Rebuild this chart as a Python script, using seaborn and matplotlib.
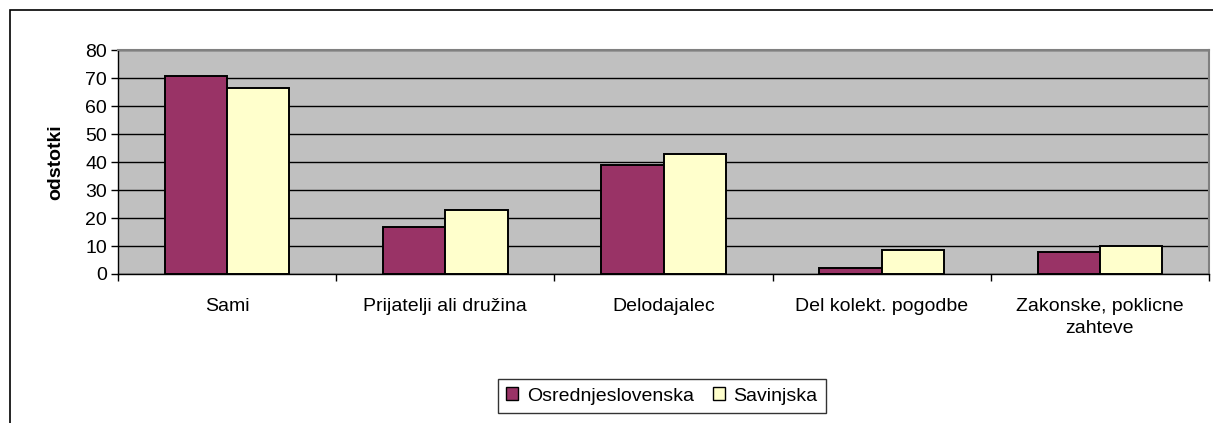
import matplotlib
matplotlib.use("Agg")
import matplotlib.pyplot as plt
import matplotlib.patches as mpatches
import pandas as pd
import seaborn as sns

# data
categories = ["Sami", "Prijatelji ali družina", "Delodajalec",
              "Del kolekt. pogodbe", "Zakonske, poklicne\nzahteve"]
osrednjeslovenska = [71, 17, 39, 2, 8]
savinjska = [66.5, 23, 43, 8.5, 10]
series = ["Osrednjeslovenska", "Savinjska"]
colors = ["#993366", "#FFFFCC"]

df = pd.DataFrame({
    "kategorija": categories * 2,
    "odstotki": osrednjeslovenska + savinjska,
    "regija": [series[0]] * len(categories) + [series[1]] * len(categories),
})

sns.set_style("white")
plt.rcParams["font.family"] = ["Liberation Sans", "DejaVu Sans"]
plt.rcParams["text.color"] = "black"
plt.rcParams["axes.labelcolor"] = "black"
plt.rcParams["xtick.color"] = "black"
plt.rcParams["ytick.color"] = "black"

W, H = 1213, 423
fig = plt.figure(figsize=(W / 100, H / 100), dpi=100)
ax = fig.add_axes([118 / W, (H - 274) / H, (1209 - 118) / W, (274 - 50.5) / H])

sns.barplot(data=df, x="kategorija", y="odstotki", hue="regija",
            palette=colors, saturation=1, width=0.571, gap=0,
            edgecolor="black", linewidth=1.4, legend=False, ax=ax, zorder=3)

ax.set_facecolor("#C0C0C0")
ax.set_ylim(0, 80)
ax.set_xlim(-0.5, len(categories) - 0.5)
ax.set_yticks(range(0, 81, 10))
ax.yaxis.grid(True, color="black", linewidth=1.0, zorder=1)
ax.set_axisbelow(True)

# category labels sit between the boundary ticks
ax.set_xticks([i - 0.5 for i in range(len(categories) + 1)])
ax.set_xticklabels([])
ax.set_xticks(range(len(categories)), minor=True)
ax.set_xticklabels(categories, minor=True, fontsize=14, linespacing=1.4)
ax.tick_params(axis="x", which="minor", length=0, pad=17)
ax.tick_params(axis="x", which="major", direction="out", length=5,
               width=1, color="black", bottom=True)
ax.tick_params(axis="y", direction="out", length=5, width=1, color="black",
               left=True, labelsize=14, pad=3)

for side in ["left", "bottom"]:
    ax.spines[side].set_color("black")
    ax.spines[side].set_linewidth(1.0)
for side in ["top", "right"]:
    ax.spines[side].set_color("#808080")
    ax.spines[side].set_linewidth(1.5)

ax.set_xlabel("")
ax.set_ylabel("odstotki", fontsize=14, fontweight="bold", labelpad=15)

handles = [mpatches.Patch(facecolor=c, edgecolor="black", linewidth=1.0)
           for c in colors]
leg = fig.legend(handles, series, loc="center",
                 bbox_to_anchor=(662 / W, (H - 396) / H), ncol=2,
                 frameon=True, fancybox=False, fontsize=14,
                 handlelength=0.6, handleheight=0.6, handletextpad=0.45,
                 columnspacing=1.0, borderpad=0.45, borderaxespad=0)
leg.get_frame().set_edgecolor("black")
leg.get_frame().set_linewidth(1.0)

# outer chart frame, clipped at the right and bottom like the original
fig.patches.append(mpatches.Rectangle((9.5 / W, -0.1), 1.2, (H - 10.5) / H + 0.1,
                                      transform=fig.transFigure, fill=False,
                                      edgecolor="black", linewidth=1.2))

fig.savefig("out.png", dpi=100)
